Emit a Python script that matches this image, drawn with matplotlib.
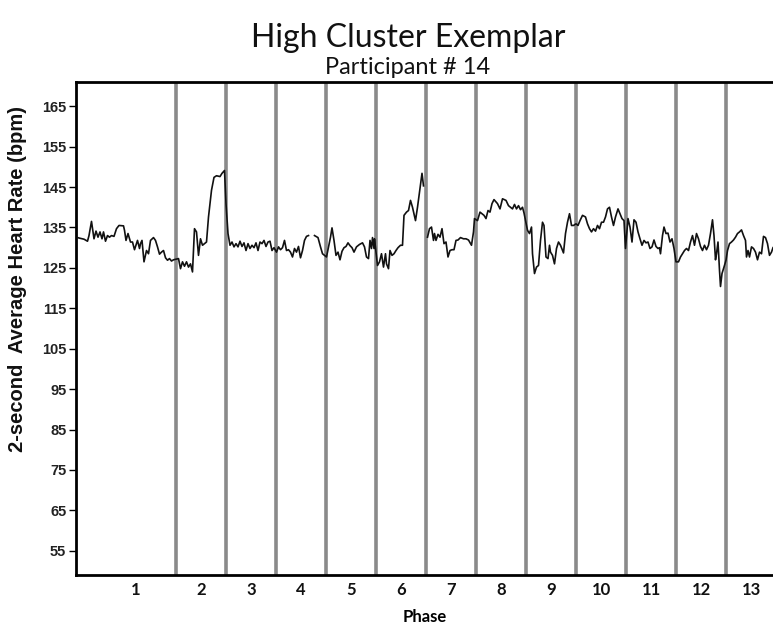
import matplotlib
matplotlib.use("Agg")
import matplotlib.pyplot as plt
import numpy as np

# time in phase-width units (phase 1 spans 0-2, the others one unit each)
t = [0.03, 0.09, 0.16, 0.23, 0.26, 0.31, 0.36, 0.40, 0.44, 0.48, 0.52, 0.55, 0.59, 0.63,
     0.67, 0.71, 0.76, 0.81, 0.86, 0.95, 0.97, 1.00, 1.04, 1.09, 1.13, 1.17, 1.23, 1.27,
     1.29, 1.32, 1.36, 1.41, 1.45, 1.49, 1.55, 1.59, 1.63, 1.67, 1.71, 1.75, 1.79, 1.83,
     1.87, 1.91, 1.95, 2.05, 2.09, 2.13, 2.17, 2.21, 2.25, 2.29, 2.33, 2.37, 2.41, 2.45,
     2.49, 2.53, 2.57, 2.61, 2.65, 2.71, 2.76, 2.81, 2.88, 2.92, 2.97, 3.00, 3.04, 3.08,
     3.12, 3.16, 3.20, 3.24, 3.28, 3.32, 3.36, 3.40, 3.44, 3.48, 3.52, 3.56, 3.60, 3.64,
     3.68, 3.72, 3.76, 3.80, 3.84, 3.88, 3.92, 3.96, 4.01, 4.05, 4.09, 4.13, 4.17, 4.21,
     4.25, 4.29, 4.33, 4.37, 4.41, 4.45, 4.49, 4.53, 4.57, 4.61, 4.65, 4.71, 4.77, 4.84,
     4.89, 4.93, 4.97, 5.01, 5.05, 5.09, 5.12, 5.16, 5.20, 5.24, 5.28, 5.32, 5.36, 5.40,
     5.44, 5.48, 5.52, 5.56, 5.61, 5.67, 5.73, 5.77, 5.81, 5.85, 5.88, 5.91, 5.93, 5.96,
     5.97, 6.03, 6.07, 6.11, 6.15, 6.19, 6.21, 6.25, 6.28, 6.32, 6.36, 6.40, 6.44, 6.49,
     6.53, 6.56, 6.61, 6.65, 6.69, 6.73, 6.79, 6.83, 6.87, 6.92, 6.95, 6.99, 7.03, 7.07,
     7.11, 7.15, 7.17, 7.20, 7.24, 7.28, 7.32, 7.36, 7.40, 7.44, 7.48, 7.52, 7.56, 7.60,
     7.64, 7.69, 7.75, 7.80, 7.85, 7.91, 7.95, 7.97, 8.03, 8.08, 8.12, 8.16, 8.20, 8.24,
     8.28, 8.32, 8.36, 8.43, 8.48, 8.53, 8.60, 8.65, 8.69, 8.73, 8.77, 8.81, 8.85, 8.89,
     8.93, 8.96, 9.03, 9.07, 9.11, 9.13, 9.17, 9.21, 9.25, 9.29, 9.33, 9.36, 9.40, 9.44,
     9.47, 9.49, 9.53, 9.57, 9.61, 9.65, 9.69, 9.75, 9.79, 9.83, 9.87, 9.91, 9.95, 10.00,
     10.04, 10.08, 10.13, 10.19, 10.23, 10.27, 10.31, 10.35, 10.39, 10.43, 10.47, 10.51,
     10.55, 10.59, 10.63, 10.67, 10.71, 10.75, 10.79, 10.84, 10.88, 10.92, 10.96, 10.99,
     11.04, 11.08, 11.12, 11.16, 11.20, 11.24, 11.28, 11.32, 11.36, 11.40, 11.44, 11.48,
     11.52, 11.56, 11.60, 11.64, 11.67, 11.69, 11.73, 11.76, 11.80, 11.84, 11.88, 11.92,
     11.96, 12.00, 12.05, 12.09, 12.13, 12.17, 12.21, 12.25, 12.29, 12.33, 12.37, 12.41,
     12.45, 12.49, 12.53, 12.57, 12.61, 12.65, 12.69, 12.73, 12.76, 12.79, 12.81, 12.84,
     12.87, 12.89, 12.92, 12.96, 13.00, 13.03, 13.07, 13.11, 13.15, 13.19, 13.23, 13.27,
     13.31, 13.35, 13.39, 13.41, 13.44, 13.47, 13.51, 13.55, 13.59, 13.63, 13.67, 13.71,
     13.75, 13.79, 13.83, 13.87, 13.91, 13.94]

# 2-second average heart rate (bpm); nan = gap in the recording
hr = [132.5, 132.3, 132.1, 131.6, 133.0, 136.5, 132.2, 134.1, 132.6, 133.9, 132.2, 133.9,
      131.6, 133.0, 132.6, 133.0, 132.8, 134.7, 135.5, 135.4, 134.3, 131.8, 133.5, 131.4,
      131.4, 129.5, 131.8, 129.8, 131.0, 131.8, 126.5, 129.3, 128.5, 131.8, 132.5, 131.8,
      130.2, 128.4, 128.9, 129.3, 127.5, 126.9, 127.3, 126.7, 127.0, 127.3, 124.8, 126.5,
      125.4, 126.5, 125.2, 126.0, 124.0, 134.7, 133.9, 128.1, 132.2, 130.6, 131.0, 131.4,
      137.6, 144.2, 147.4, 147.8, 147.6, 148.4, 149.1, 140.9, 133.5, 130.6,
      131.4, 130.2, 131.0, 130.2, 131.6, 130.3, 131.2, 129.3, 131.0, 129.8, 130.6, 130.0,
      131.2, 129.3, 131.4, 131.0, 131.8, 130.3, 131.4, 131.6, 129.3, 130.0, 128.9, 130.2,
      129.5, 130.0, 131.8, 129.3, 129.5, 128.9, 127.7, 129.8, 128.9, 130.3, 127.5, 129.3,
      131.8, 132.8, 133.0, np.nan, 133.0, 132.5, 130.2, 128.5, 128.1, 127.7, 130.2, 132.6,
      134.9, 131.8, 128.1, 128.9, 127.0, 129.1, 130.0, 130.3, 131.2, 130.5, 130.0, 128.9,
      130.2, 130.8, 131.2, 130.2, 127.7, 127.3, 131.8, 129.8, 132.5, 129.8, 132.2, 125.6,
      126.5, 128.5, 125.2, 128.5, 126.0, 124.8, 129.3, 128.1, 128.5, 129.3, 130.0, 130.6,
      130.6, 138.0, 138.8, 139.2, 141.7, 140.0, 136.7, 140.0, 143.7, 148.4, 145.3, np.nan,
      132.6, 134.7, 135.1, 131.8, 133.5, 131.8, 133.3, 132.6, 134.7, 131.0, 131.4, 127.7,
      129.3, 129.5, 129.5, 131.8, 131.9, 132.5, 132.2, 132.2, 131.9, 130.6, 133.9, 137.2,
      136.7, 138.8, 138.4, 138.0, 137.2, 139.2, 138.8, 140.9, 141.9, 140.9, 139.6, 142.1,
      141.7, 140.4, 140.0, 139.6, 140.7, 139.6, 140.4, 139.4, 140.0, 138.6, 134.3, 133.5,
      135.1, 128.5, 123.6, 125.2, 125.6, 131.8, 136.3, 135.5, 127.7, 127.3, 130.6, 128.9,
      128.1, 126.0, 129.8, 131.4, 130.6, 128.7, 133.5, 136.3, 138.4, 135.5, 135.5, 135.9,
      135.5, 136.7, 138.0, 137.6, 135.9, 134.7, 133.9, 134.7, 134.1, 135.5, 134.7, 136.3,
      136.3, 137.6, 139.6, 140.0, 137.6, 135.5, 137.6, 139.6, 138.4, 137.2, 136.7, 129.8,
      137.2, 135.1, 131.4, 136.9, 136.3, 133.9, 132.2, 130.6, 131.8, 131.2, 131.4, 129.8,
      130.2, 131.9, 130.3, 129.8, 130.0, 128.5, 133.0, 135.1, 133.5, 133.6, 131.4, 132.2,
      129.8, 126.5, 126.5, 127.7, 128.5, 129.3, 129.8, 129.3, 131.4, 133.0, 130.6, 133.5,
      132.2, 130.3, 129.3, 130.6, 129.5, 130.6, 133.5, 136.9, 133.0, 127.0, 128.5, 131.4,
      124.4, 120.4, 123.6, 125.2, 126.9, 129.3, 131.0, 131.4, 131.9, 132.6, 133.5, 133.9,
      134.4, 133.0, 131.8, 127.7, 129.3, 127.7, 130.2, 129.8, 128.9, 127.0, 128.9, 128.5,
      132.8, 132.5, 131.0, 128.1, 128.9, 130.0]

phase_bounds = [2, 3, 4, 5, 6, 7, 8, 9, 10, 11, 12, 13]
phase_labels = [str(i) for i in range(1, 14)]
phase_label_pos = [1.2] + [k + 0.5 for k in range(2, 14)]
y_ticks = list(range(55, 166, 10))

fig = plt.figure(figsize=(7.73, 6.34), dpi=100)
ax = fig.add_axes([76 / 773, 59 / 634, 697 / 773, 493 / 634])

for b in phase_bounds:
    ax.axvline(b, color="#8a8a8a", linewidth=2.6, zorder=1)

ax.plot(t, hr, color="#111111", linewidth=1.2, zorder=3)

ax.set_xlim(0, 13.94)
ax.set_ylim(49, 171)
ax.set_yticks(y_ticks)
ax.set_yticklabels([str(v) for v in y_ticks], fontfamily="Liberation Sans",
                   fontweight="bold", fontsize=10.5, color="#222222")
ax.set_xticks(phase_label_pos)
ax.set_xticklabels(phase_labels, fontfamily="Lato", fontweight="bold", fontsize=12,
                   color="#111111")
ax.tick_params(axis="x", length=0, pad=5)
ax.tick_params(axis="y", length=5, width=1, direction="out", pad=2)

ax.spines["right"].set_visible(False)
for s in ["left", "top", "bottom"]:
    ax.spines[s].set_linewidth(2)

ax.set_xlabel("Phase", fontfamily="Lato", fontweight="bold", fontsize=12, labelpad=8)
fig.text(18 / 773, 1 - 279 / 634, "2-second  Average Heart Rate (bpm)", rotation=90,
         ha="center", va="center", fontfamily="Liberation Sans", fontweight="bold",
         fontsize=14.5, color="#111111")

fig.text(408 / 773, 1 - 38 / 634, "High Cluster Exemplar", ha="center", va="center",
         fontfamily="Lato", fontsize=23, color="#111111")
fig.text(408 / 773, 1 - 67 / 634, "Participant # 14", ha="center", va="center",
         fontfamily="Lato", fontsize=17, color="#111111")

fig.savefig("out.png", dpi=100)
